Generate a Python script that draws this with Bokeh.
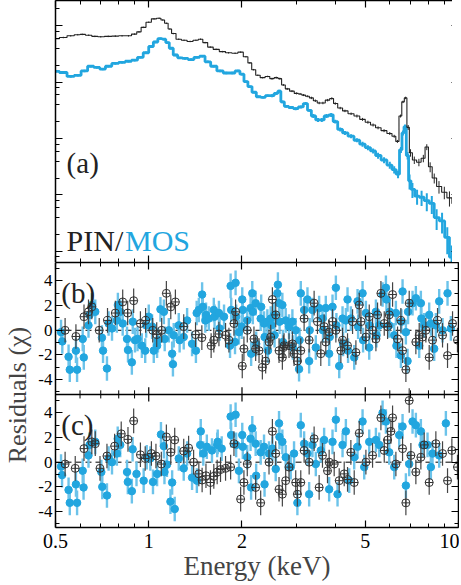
import numpy as np
from bokeh.plotting import figure
from bokeh.layouts import column
from bokeh.models import (Range1d, LogAxis, LinearAxis, FixedTicker, LogTicker,
                          CustomJSTickFormatter, Span, Label)
from bokeh.embed import file_html
from bokeh.resources import INLINE

FONT = "Liberation Serif"
BLACK = "#222222"
CYAN = "#22a6df"
CYAN_BAR = "#6cc3ea"

# ---------------- panel (a): spectra (arbitrary flux units) ----------------
pin_e = [0.50, 0.53, 0.56, 0.59, 0.61, 0.64, 0.67, 0.70, 0.74, 0.78,
         0.82, 0.86, 0.90, 0.93, 0.96, 1.00, 1.04, 1.08, 1.11, 1.14,
         1.17, 1.20, 1.25, 1.30, 1.36, 1.42, 1.47, 1.52, 1.58, 1.65,
         1.73, 1.81, 1.90, 1.98, 2.06, 2.12, 2.18, 2.25, 2.33, 2.42,
         2.50, 2.58, 2.65, 2.72, 2.80, 2.90, 3.00, 3.08, 3.16, 3.25,
         3.35, 3.45, 3.55, 3.65, 3.78, 3.90, 4.00, 4.15, 4.30, 4.50,
         4.70, 4.90, 5.10, 5.30, 5.50, 5.75, 6.00, 6.20, 6.35, 6.50,
         6.62, 6.75, 6.88, 7.00, 7.20, 7.45, 7.70, 7.90, 8.10, 8.35,
         8.65, 9.00, 9.35, 9.70, 10.0]
pin_f = [0.589, 0.617, 0.661, 0.692, 0.700, 0.676, 0.646, 0.637, 0.646, 0.653,
         0.661, 0.661, 0.708, 0.776, 0.933, 1.15, 1.32, 1.35, 1.26, 1.10,
         0.871, 0.724, 0.575, 0.550, 0.525, 0.550, 0.575, 0.501, 0.417, 0.380,
         0.347, 0.331, 0.324, 0.339, 0.282, 0.219, 0.166, 0.132, 0.120, 0.126,
         0.115, 0.120, 0.115, 0.0891, 0.0759, 0.0692, 0.0631, 0.0617, 0.0589, 0.0562,
         0.0525, 0.0468, 0.0427, 0.0427, 0.0479, 0.0513, 0.0417, 0.0347, 0.0309, 0.0275,
         0.0251, 0.0219, 0.0195, 0.0174, 0.0155, 0.0138, 0.0123, 0.0110, 0.00891, 0.0251,
         0.0447, 0.0525, 0.0158, 0.00562, 0.00417, 0.00380, 0.00447, 0.00708, 0.00316, 0.00200,
         0.00141, 0.00112, 0.000891, 0.000708, 0.000631]
pin_err = [0.03, 0.03, 0.03, 0.03, 0.03, 0.03, 0.03, 0.03, 0.03, 0.03,
           0.03, 0.03, 0.03, 0.03, 0.03, 0.03, 0.03, 0.03, 0.03, 0.03,
           0.03, 0.03, 0.03, 0.03, 0.03, 0.03, 0.03, 0.03, 0.03, 0.03,
           0.03, 0.03, 0.03, 0.03, 0.03, 0.03, 0.03, 0.03, 0.03, 0.03,
           0.04, 0.04, 0.04, 0.04, 0.04, 0.04, 0.04, 0.04, 0.04, 0.04,
           0.05, 0.05, 0.05, 0.05, 0.05, 0.05, 0.05, 0.05, 0.05, 0.05,
           0.06, 0.06, 0.06, 0.06, 0.06, 0.06, 0.06, 0.06, 0.06, 0.06,
           0.05, 0.05, 0.10, 0.15, 0.15, 0.15, 0.15, 0.12, 0.20, 0.20,
           0.25, 0.25, 0.30, 0.30, 0.30]

mos_e = [0.50, 0.53, 0.56, 0.59, 0.62, 0.65, 0.68, 0.71, 0.74, 0.78,
         0.82, 0.86, 0.90, 0.94, 0.98, 1.02, 1.05, 1.09, 1.12, 1.15,
         1.18, 1.22, 1.26, 1.31, 1.37, 1.43, 1.49, 1.55, 1.62, 1.70,
         1.78, 1.86, 1.94, 2.00, 2.06, 2.12, 2.19, 2.26, 2.34, 2.42,
         2.50, 2.58, 2.64, 2.70, 2.78, 2.88, 2.98, 3.10, 3.21, 3.30,
         3.40, 3.52, 3.62, 3.75, 3.88, 4.00, 4.15, 4.30, 4.50, 4.70,
         4.90, 5.10, 5.30, 5.50, 5.75, 6.00, 6.20, 6.38, 6.52, 6.62,
         6.72, 6.85, 6.95, 7.10, 7.35, 7.60, 7.90, 8.20, 8.50, 8.85,
         9.20, 9.50]
mos_f = [0.155, 0.148, 0.126, 0.132, 0.158, 0.191, 0.182, 0.170, 0.191, 0.214,
         0.224, 0.234, 0.245, 0.275, 0.331, 0.427, 0.513, 0.589, 0.575, 0.501,
         0.398, 0.302, 0.269, 0.263, 0.251, 0.275, 0.288, 0.229, 0.191, 0.158,
         0.145, 0.145, 0.158, 0.138, 0.102, 0.0832, 0.0661, 0.0550, 0.0537, 0.0575,
         0.0575, 0.0631, 0.0692, 0.0447, 0.0372, 0.0355, 0.0339, 0.0363, 0.0417, 0.0316,
         0.0251, 0.0214, 0.0214, 0.0251, 0.0263, 0.0200, 0.0145, 0.0126, 0.0110, 0.00933,
         0.00794, 0.00692, 0.00603, 0.00501, 0.00417, 0.00339, 0.00282, 0.00234, 0.00631, 0.0126,
         0.0162, 0.00501, 0.00178, 0.00126, 0.000955, 0.000912, 0.000794, 0.000708, 0.000398, 0.000347,
         0.000178, 0.0000794]
mos_err = [0.05, 0.05, 0.05, 0.05, 0.05, 0.05, 0.05, 0.05, 0.05, 0.05,
           0.05, 0.05, 0.05, 0.05, 0.05, 0.05, 0.05, 0.05, 0.05, 0.05,
           0.05, 0.05, 0.05, 0.05, 0.05, 0.05, 0.05, 0.05, 0.05, 0.05,
           0.05, 0.05, 0.05, 0.05, 0.05, 0.05, 0.05, 0.05, 0.05, 0.05,
           0.06, 0.06, 0.06, 0.06, 0.06, 0.06, 0.06, 0.06, 0.06, 0.06,
           0.08, 0.08, 0.08, 0.08, 0.08, 0.08, 0.08, 0.08, 0.08, 0.08,
           0.10, 0.10, 0.10, 0.12, 0.12, 0.14, 0.15, 0.15, 0.12, 0.10,
           0.10, 0.15, 0.30, 0.30, 0.30, 0.30, 0.35, 0.35, 0.40, 0.40,
           0.50, 0.60]

# ---------------- panel (b): residuals ----------------
b_pin_e = [0.537, 0.582, 0.618, 0.639, 0.655, 0.692, 0.736, 0.780, 0.824, 0.855,
           0.894, 0.940, 0.977, 1.030, 1.061, 1.101, 1.140, 1.178, 1.219, 1.297,
           1.416, 1.484, 1.590, 1.622, 1.685, 1.770, 1.815, 1.884, 1.907, 2.004,
           2.029, 2.080, 2.186, 2.214, 2.270, 2.327, 2.385, 2.445, 2.476, 2.507,
           2.570, 2.634, 2.700, 2.720, 2.734, 2.837, 2.909, 2.945, 3.019, 3.096,
           3.174, 3.295, 3.419, 3.505, 3.593, 3.683, 3.729, 3.823, 3.920, 4.019,
           4.171, 4.223, 4.383, 4.550, 4.664, 4.781, 4.841, 5.024, 5.150, 5.279,
           5.412, 5.479, 5.617, 5.758, 5.902, 5.976, 6.126, 6.357, 6.517, 6.598,
           6.763, 6.932, 7.284, 7.467, 7.654, 7.846, 8.043, 8.244, 8.557, 8.881,
           9.217, 9.567, 9.924]
b_pin_r = [0, -0.5, 1.1, 1.5, 1.9, 0, 0.8, 1.4, 2.3, 1.4,
           2.4, 0.55, 0.8, 0, -0.35, 0, 3.0, 1.9, 2.3, 0.3,
           -0.35, -0.6, -1.25, -0.8, -0.3, -0.4, -0.8, 0.55, 1.5, -2.9,
           -1.5, 0, -0.7, -1.5, -1.65, -3.0, -2.5, -0.95, -0.55, 2.5,
           1.25, -1.65, -2.2, -1.4, -1.25, -1.25, -1.1, -1.9, -2.5, -1.65,
           0.95, -0.8, 2.2, 0.7, -1.9, 0.3, -0.95, -0.15, 0.7, 0,
           -1.65, -0.8, -1.25, 0.7, -1.8, 2.05, 0.7, -0.55, 1.1, 0,
           -0.7, 1.25, 3.0, 0.55, 0.3, 1.25, 2.9, -0.7, 0.8, -1.65,
           -3.2, 2.2, -0.95, -0.4, -0.55, 0, -2.2, -0.8, 0.8, -0.4,
           -2.05, 0.55, -0.8]
b_mos_e = [0.521, 0.526, 0.551, 0.556, 0.582, 0.587, 0.612, 0.617, 0.639, 0.644,
           0.655, 0.672, 0.706, 0.712, 0.733, 0.742, 0.761, 0.789, 0.795, 0.809,
           0.824, 0.851, 0.857, 0.882, 0.888, 0.903, 0.920, 0.950, 0.974, 0.981,
           1.000, 1.025, 1.038, 1.064, 1.071, 1.091, 1.119, 1.126, 1.161, 1.190,
           1.197, 1.204, 1.250, 1.258, 1.297, 1.330, 1.380, 1.420, 1.428, 1.451,
           1.487, 1.495, 1.523, 1.531, 1.563, 1.622, 1.631, 1.685, 1.694, 1.750,
           1.838, 1.846, 1.830, 1.907, 1.915, 1.899, 1.955, 2.004, 2.012, 1.996,
           2.080, 2.132, 2.141, 2.159, 2.168, 2.214, 2.223, 2.298, 2.307, 2.356,
           2.366, 2.415, 2.425, 2.476, 2.486, 2.538, 2.548, 2.602, 2.612, 2.634,
           2.645, 2.700, 2.711, 2.768, 2.837, 2.909, 2.920, 2.982, 3.057, 3.069,
           3.096, 3.174, 3.254, 3.295, 3.308, 3.377, 3.462, 3.549, 3.638, 3.652,
           3.729, 3.823, 3.838, 3.920, 4.019, 4.035, 4.120, 4.223, 4.240, 4.329,
           4.383, 4.400, 4.493, 4.606, 4.722, 4.741, 4.901, 4.920, 5.024, 5.150,
           5.170, 5.412, 5.433, 5.548, 5.687, 5.830, 5.853, 5.976, 5.999, 6.202,
           6.279, 6.304, 6.517, 6.543, 6.598, 6.763, 6.847, 6.874, 7.106, 7.284,
           7.467, 7.560, 7.590, 7.750, 8.043, 8.143, 8.347, 8.451, 8.663, 8.881,
           9.217, 9.449]
b_mos_r = [-0.15, -0.9, -2.15, -3.2, -1.65, -3.2, -0.7, -2.2, 0.4, 1.25,
           2.05, 1.5, -0.6, -1.65, -3.1, 0.55, 0.15, 0.8, 2.05, 1.5,
           0.55, -0.7, -1.6, -2.6, 0.7, -0.8, -0.7, -1.25, -1.65, 0.4,
           1.1, 0.3, -1.65, -1.25, -0.8, 1.7, 1.5, -0.7, 0, -1.9,
           -2.75, -0.4, 0.4, -0.8, -0.55, 0.8, -1.1, -1.65, 1.4, 1.65,
           2.9, 1.9, 0.8, 1.25, 0.95, 1.65, 1.1, 1.4, 0.15, 1.1,
           3.6, 1.65, -1.25, 3.85, 1.1, -0.95, -0.15, 2.5, 1.65, 0.3,
           0.8, 1.8, -1.9, 3.0, 1.5, 2.2, -1.1, 0.95, 1.9, 0.55,
           -0.55, 0.7, -1.65, 0.95, 0.4, 1.25, -0.4, 3.0, 3.7, 2.2,
           0.7, 2.05, -0.95, 0.8, 0.3, 0.7, -1.4, 0, -3.15, -0.8,
           3.0, 1.65, 2.5, -2.5, 0, 1.65, -1.4, 1.8, 0.95, 0,
           1.8, -1.9, -0.55, 1.9, 3.45, 0.4, -2.9, 0.95, -1.1, 0.8,
           2.5, -1.65, 0.95, -2.2, 2.35, 0.3, 3.0, -0.8, 1.4, -1.4,
           0.4, 1.5, -0.4, 0.4, 2.9, 3.45, 2.5, 0.4, 1.5, -0.4,
           1.4, -1.25, -2.05, 0.7, 3.15, -0.15, -2.5, 1.5, 2.2, 2.6,
           -1.25, 2.2, 0.95, 0.4, 1.25, 0.55, -1.5, 0.4, 2.35, 0,
           3.0, 0.15]

# ---------------- panel (c): residuals ----------------
c_pin_e = [0.537, 0.579, 0.618, 0.655, 0.672, 0.696, 0.733, 0.776, 0.815, 0.857,
           0.894, 0.940, 0.974, 1.020, 1.055, 1.098, 1.140, 1.178, 1.213, 1.297,
           1.345, 1.396, 1.451, 1.487, 1.530, 1.582, 1.622, 1.663, 1.705, 1.770,
           1.838, 1.884, 1.980, 2.029, 2.080, 2.214, 2.298, 2.445, 2.507, 2.570,
           2.634, 2.700, 2.768, 2.837, 2.982, 3.019, 3.096, 3.174, 3.295, 3.419,
           3.549, 3.638, 3.776, 3.823, 3.969, 4.120, 4.276, 4.383, 4.493, 4.606,
           4.781, 5.024, 5.279, 5.617, 5.758, 5.902, 6.050, 6.126, 6.279, 6.598,
           6.763, 6.932, 7.019, 7.284, 7.560, 7.750, 8.043, 8.451, 8.881, 9.217,
           9.519, 9.924]
c_pin_r = [-0.15, -0.5, 1.1, 1.65, 1.5, -0.5, 0.5, 1.3, 2.3, 1.85,
           3.35, 0.6, 0.3, 0.7, 0.5, -0.15, 2.05, 0.8, 1.8, 0.9,
           1.15, 0, -0.95, -1.45, -1.1, -1.65, -1.15, -0.8, -0.6, -0.5,
           -0.4, 1.5, -3.0, -1.65, -0.15, -2.05, -3.3, 0, 2.5, 0.7,
           -2.2, -2.6, -1.5, -0.4, -1.65, -2.6, -1.65, 0.95, 0, 1.9,
           -2.05, 0.55, -0.7, 0, -0.15, -1.5, -0.95, -1.4, 0.8, -1.65,
           2.35, 0, 0.55, 3.6, 0.95, 1.8, 2.5, 3.6, -0.15, 1.1,
           -3.3, 5.0, 0.55, -0.8, 0.4, 1.4, -1.65, 1.5, 0.7, -1.5,
           0.95, -0.4]
c_mos_e = [0.521, 0.525, 0.551, 0.556, 0.582, 0.587, 0.612, 0.616, 0.639, 0.644,
           0.672, 0.703, 0.708, 0.733, 0.742, 0.761, 0.789, 0.794, 0.809, 0.851,
           0.856, 0.882, 0.887, 0.913, 0.963, 0.985, 1.012, 1.032, 1.064, 1.095,
           1.119, 1.124, 1.145, 1.175, 1.190, 1.213, 1.250, 1.297, 1.330, 1.380,
           1.430, 1.466, 1.472, 1.500, 1.540, 1.600, 1.663, 1.670, 1.720, 1.838,
           1.845, 1.907, 1.915, 1.955, 2.004, 2.012, 2.080, 2.132, 2.140, 2.159,
           2.214, 2.222, 2.298, 2.356, 2.365, 2.445, 2.507, 2.570, 2.634, 2.642,
           2.700, 2.768, 2.873, 2.945, 3.019, 3.096, 3.174, 3.254, 3.295, 3.377,
           3.462, 3.593, 3.683, 3.823, 3.920, 4.019, 4.069, 4.223, 4.329, 4.438,
           4.606, 4.722, 4.901, 4.962, 5.150, 5.412, 5.548, 5.687, 5.830, 5.976,
           6.202, 6.436, 6.598, 6.763, 6.932, 7.106, 7.284, 7.560, 7.654, 7.944,
           8.143, 8.244, 8.663, 9.104]
c_mos_r = [-0.35, -1.05, -2.25, -3.3, -1.8, -3.3, -0.7, -2.05, 0.55, 1.4,
           1.65, -0.8, -2.0, -2.7, 0.3, 0, 0.7, 1.9, 1.4, -0.8,
           -1.6, -2.35, 1.05, -0.95, -1.5, 0.4, 0.3, -1.6, -0.95, 2.25,
           1.3, -0.8, -0.2, -3.2, -1.65, -3.8, 0.3, -0.5, 0.7, -1.25,
           -1.5, 1.4, 2.5, 0.7, 1.25, 0.95, 1.4, 1.65, 1.1, 3.7,
           2.2, 3.85, 1.4, -0.7, 2.2, 1.25, 0.4, 1.9, -2.05, 2.75,
           1.5, -1.1, 0.8, 1.25, -1.8, 0.7, 1.1, -0.55, 3.15, 2.05,
           1.65, 0.4, -0.4, 0.7, -3.3, 3.0, 1.5, 0.7, -2.6, 1.4,
           -0.15, 0.95, 1.8, -2.2, 1.65, 3.45, -2.6, 1.4, 2.5, -1.5,
           0.4, 1.25, 3.3, -0.4, 1.65, 1.8, 1.4, 4.0, 3.3, 0.8,
           -0.4, 2.2, 2.9, -1.9, -0.15, 3.3, 3.0, 2.5, 1.4, 1.4,
           -0.4, 0.7, 0.55, 3.15]

# tick labels
x_ticks = [0.5, 1, 2, 5, 10]
x_minor = [0.6, 0.7, 0.8, 0.9, 3, 4, 6, 7, 8, 9]
res_ticks = [-4, -2, 0, 2, 4]
res_minor = [-5, -3, -1, 1, 3, 5]

# residual panels share one frame: (c) on the default range, (b) on range "b"
C_LO, C_HI = -5.3, 5.5
B_LO, B_HI = -5.2, 5.5
OFFSET = C_HI - B_LO  # a (b)-value v sits at default-axis value v + OFFSET


def style_axis(ax, labels):
    ax.axis_line_color = "black"
    ax.axis_line_width = 1.5
    ax.major_tick_line_color = "black"
    ax.major_tick_line_width = 1.2
    ax.minor_tick_line_color = "black"
    ax.minor_tick_line_width = 1
    ax.major_tick_in = 7
    ax.major_tick_out = 0
    ax.minor_tick_in = 4
    ax.minor_tick_out = 0
    if not labels:
        ax.formatter = CustomJSTickFormatter(code="return '';")
        ax.major_label_text_font_size = "0px"
        ax.major_label_standoff = 0
    else:
        ax.major_label_text_font = FONT
        ax.major_label_text_color = "black"


x_range = Range1d(0.5, 10.0)
FW = 403

# ---------------- figure (a) ----------------
p1 = figure(frame_width=FW, frame_height=262, x_axis_type="log", y_axis_type="log",
            x_range=x_range, y_range=Range1d(6.37e-5, 2.79),
            x_axis_location=None, y_axis_location=None,
            min_border_left=48, min_border_right=1, min_border_top=0, min_border_bottom=0,
            output_backend="svg", toolbar_location=None)
p1.grid.visible = False
p1.outline_line_color = None
for loc in ("below", "above"):
    ax = LogAxis(ticker=FixedTicker(ticks=x_ticks, minor_ticks=x_minor))
    style_axis(ax, False)
    p1.add_layout(ax, loc)
for loc in ("left", "right"):
    ax = LogAxis(ticker=LogTicker())
    style_axis(ax, False)
    p1.add_layout(ax, loc)

mf = np.array(mos_f)
me = np.array(mos_err)
p1.segment(x0=mos_e, y0=mf * (1 - me), x1=mos_e, y1=mf * (1 + me),
           line_color=CYAN, line_width=2)
p1.step(x=mos_e, y=mos_f, mode="center", line_color=CYAN, line_width=2.8)

pf = np.array(pin_f)
pe = np.array(pin_err)
p1.segment(x0=pin_e, y0=pf * (1 - pe), x1=pin_e, y1=pf * (1 + pe),
           line_color=BLACK, line_width=1)
p1.step(x=pin_e, y=pin_f, mode="center", line_color=BLACK, line_width=1.1)

p1.add_layout(Label(x=0.543, y=0.00372, text="(a)", text_font=FONT,
                    text_font_size="29px", text_color=BLACK, text_baseline="alphabetic"))
p1.add_layout(Label(x=0.543, y=1.58e-4, text="PIN/", text_font=FONT,
                    text_font_size="30px", text_color=BLACK, text_baseline="alphabetic"))
p1.add_layout(Label(x=0.838, y=1.58e-4, text="MOS", text_font=FONT,
                    text_font_size="30px", text_color=CYAN, text_baseline="alphabetic"))

# ---------------- figures (b)+(c) ----------------
p2 = figure(frame_width=FW, frame_height=265, x_axis_type="log",
            x_range=x_range, y_range=Range1d(C_LO, C_HI + (B_HI - B_LO)),
            x_axis_location=None, y_axis_location=None,
            min_border_left=48, min_border_right=1, min_border_top=0, min_border_bottom=46,
            output_backend="svg", toolbar_location=None)
p2.extra_y_ranges = {"b": Range1d(B_LO - (C_HI - C_LO), B_HI)}
p2.grid.visible = False
p2.outline_line_color = None

y_ticks_all = res_ticks + [t + OFFSET for t in res_ticks]
y_minor_all = res_minor + [t + OFFSET for t in res_minor]
fmt_code = ("var v = tick > %s ? tick - %s : tick; return Math.round(v).toString();"
            % (C_HI, OFFSET))

ax = LogAxis(ticker=FixedTicker(ticks=x_ticks, minor_ticks=x_minor),
             formatter=CustomJSTickFormatter(code="return tick.toString();"),
             axis_label="Energy (keV)")
style_axis(ax, True)
ax.major_label_text_font_size = "20px"
ax.major_label_standoff = 6
ax.axis_label_text_font = FONT
ax.axis_label_text_font_size = "27px"
ax.axis_label_text_font_style = "normal"
ax.axis_label_standoff = 0
p2.add_layout(ax, "below")

ax = LogAxis(ticker=FixedTicker(ticks=x_ticks, minor_ticks=x_minor))
style_axis(ax, False)
p2.add_layout(ax, "above")

ax = LinearAxis(ticker=FixedTicker(ticks=y_ticks_all, minor_ticks=y_minor_all),
                formatter=CustomJSTickFormatter(code=fmt_code),
                axis_label="Residuals (χ)")
style_axis(ax, True)
ax.major_label_text_font_size = "17px"
ax.major_label_standoff = 3
ax.axis_label_text_font = FONT
ax.axis_label_text_font_size = "26px"
ax.axis_label_text_font_style = "normal"
ax.axis_label_standoff = 3
p2.add_layout(ax, "left")

ax = LinearAxis(ticker=FixedTicker(ticks=y_ticks_all, minor_ticks=y_minor_all))
style_axis(ax, False)
p2.add_layout(ax, "right")

# boundary between (b) and (c) with its ticks
p2.add_layout(Span(location=C_HI, dimension="width", line_color="black", line_width=1.5))
p2.segment(x0=x_ticks[1:-1], y0=C_HI - 0.58, x1=x_ticks[1:-1], y1=C_HI + 0.58,
           line_color="black", line_width=1.2)
p2.segment(x0=x_minor, y0=C_HI - 0.33, x1=x_minor, y1=C_HI + 0.33,
           line_color="black", line_width=1)

# zero lines
p2.add_layout(Span(location=0, dimension="width", line_color="black", line_width=1,
                   line_dash="6 4", level="underlay"))
p2.add_layout(Span(location=0, dimension="width", line_color="black", line_width=1,
                   line_dash="6 4", level="underlay", y_range_name="b"))


def residuals(e, r, color, bar_color, rng, black):
    ra = np.array(r)
    kw = {} if rng is None else {"y_range_name": rng}
    p2.segment(x0=e, y0=ra - 1, x1=e, y1=ra + 1, line_color=bar_color,
               line_width=1.2 if black else 2.4, **kw)
    if black:
        p2.scatter(x=e, y=r, marker="circle_cross", size=8, fill_color=None,
                   line_color=color, line_width=1, **kw)
    else:
        p2.scatter(x=e, y=r, marker="circle", size=7.5, fill_color=color,
                   line_color=color, **kw)


residuals(b_mos_e, b_mos_r, CYAN, CYAN_BAR, "b", False)
residuals(b_pin_e, b_pin_r, "#333333", "#444444", "b", True)
residuals(c_mos_e, c_mos_r, CYAN, CYAN_BAR, None, False)
residuals(c_pin_e, c_pin_r, "#333333", "#444444", None, True)

p2.add_layout(Label(x=0.522, y=3.0, y_range_name="b", text="(b)", text_font=FONT,
                    text_font_size="29px", text_color=BLACK, text_baseline="alphabetic"))
p2.add_layout(Label(x=0.522, y=3.0, text="(c)", text_font=FONT,
                    text_font_size="29px", text_color=BLACK, text_baseline="alphabetic"))

layout = column(p1, p2)
open("out.html", "w").write(file_html(layout, INLINE))
